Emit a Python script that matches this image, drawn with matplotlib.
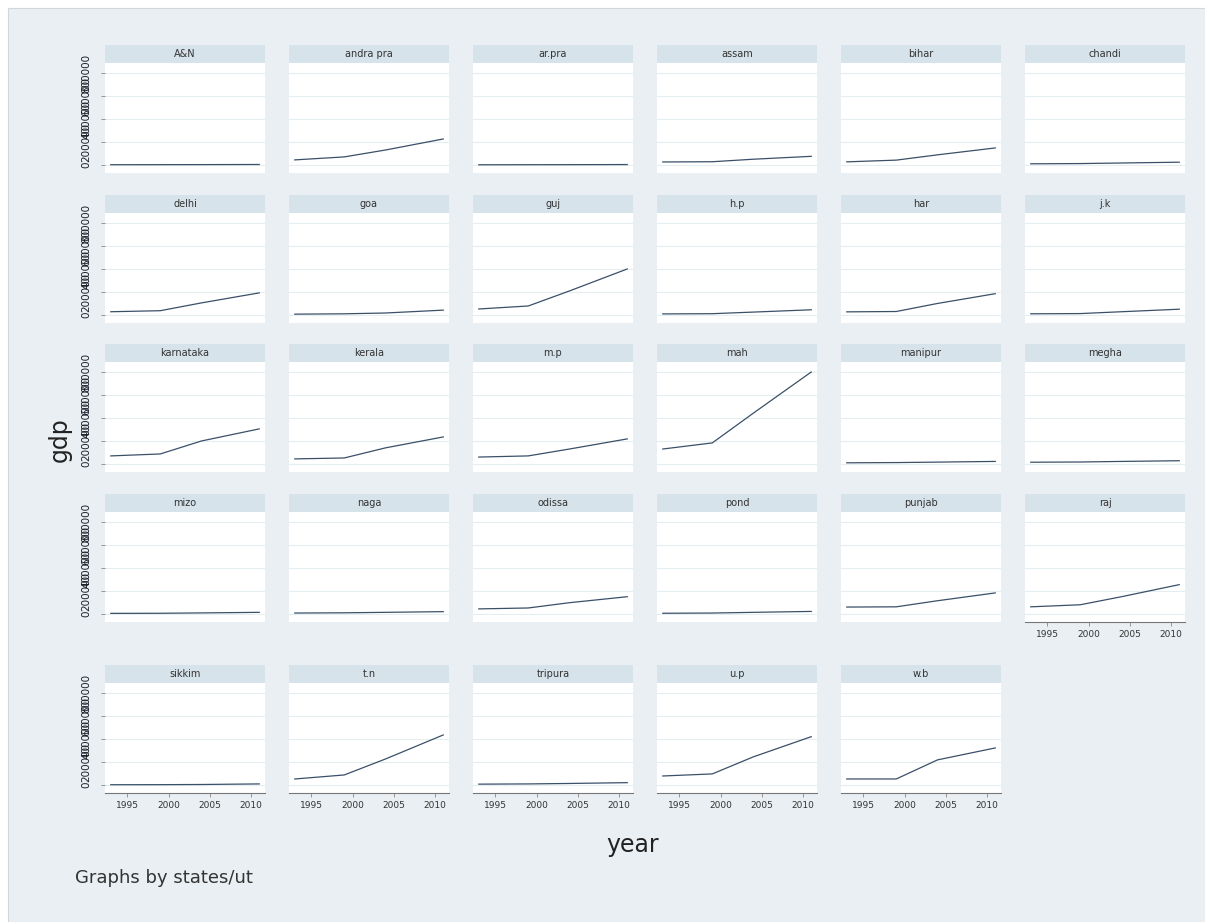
import numpy as np
import matplotlib.pyplot as plt
from matplotlib.patches import Rectangle

# Survey years and state GDP (one list per state)
years = [1993, 1999, 2004, 2011]
states = ['A&N', 'andra pra', 'ar.pra', 'assam', 'bihar', 'chandi',
          'delhi', 'goa', 'guj', 'h.p', 'har', 'j.k',
          'karnataka', 'kerala', 'm.p', 'mah', 'manipur', 'megha',
          'mizo', 'naga', 'odissa', 'pond', 'punjab', 'raj',
          'sikkim', 't.n', 'tripura', 'u.p', 'w.b']
gdp_an = [2000, 2500, 3000, 4000]
gdp_andra = [44000, 70000, 130000, 226000]
gdp_arpra = [1500, 2000, 2500, 3500]
gdp_assam = [26000, 28000, 50000, 75000]
gdp_bihar = [27000, 42000, 88000, 148000]
gdp_chandi = [10000, 12000, 17000, 24000]
gdp_delhi = [28000, 37000, 105000, 192000]
gdp_goa = [7000, 10000, 17000, 42000]
gdp_guj = [52000, 78000, 209000, 400000]
gdp_hp = [9000, 11000, 25000, 45000]
gdp_har = [27000, 30000, 100000, 185000]
gdp_jk = [10000, 12000, 28000, 50000]
gdp_karnataka = [70000, 87000, 200000, 305000]
gdp_kerala = [44000, 52000, 140000, 235000]
gdp_mp = [60000, 70000, 130000, 218000]
gdp_mah = [130000, 183000, 443000, 800000]
gdp_manipur = [10000, 12000, 16000, 22000]
gdp_megha = [15000, 17000, 22000, 28000]
gdp_mizo = [5000, 6000, 9000, 14000]
gdp_naga = [8000, 10000, 14000, 20000]
gdp_odissa = [44000, 52000, 98000, 150000]
gdp_pond = [6000, 8000, 14000, 22000]
gdp_punjab = [60000, 62000, 115000, 183000]
gdp_raj = [62000, 80000, 150000, 255000]
gdp_sikkim = [2000, 2500, 4000, 9000]
gdp_tn = [52000, 87000, 226000, 435000]
gdp_tripura = [7000, 9000, 13000, 20000]
gdp_up = [78000, 96000, 245000, 420000]
gdp_wb = [52000, 52000, 218000, 322000]

series = [gdp_an, gdp_andra, gdp_arpra, gdp_assam, gdp_bihar, gdp_chandi,
          gdp_delhi, gdp_goa, gdp_guj, gdp_hp, gdp_har, gdp_jk,
          gdp_karnataka, gdp_kerala, gdp_mp, gdp_mah, gdp_manipur, gdp_megha,
          gdp_mizo, gdp_naga, gdp_odissa, gdp_pond, gdp_punjab, gdp_raj,
          gdp_sikkim, gdp_tn, gdp_tripura, gdp_up, gdp_wb]

yticks = [0, 200000, 400000, 600000, 800000]
xticks = [1995, 2000, 2005, 2010]

W, H = 1205, 922
bg = '#e9eff2'
strip_col = '#d6e3ea'
grid_col = '#e6edf0'
line_col = '#3a5068'

fig = plt.figure(figsize=(W / 100, H / 100), dpi=100)
fig.patch.set_facecolor('white')
# graph region
fig.add_artist(Rectangle((8 / W, 0), 1, 1 - 8 / H, transform=fig.transFigure,
                         facecolor=bg, edgecolor='#d0d8dc', lw=0.8, zorder=0))

col_left = [105, 289, 473, 657, 841, 1025]
strip_top = [45, 195, 344, 494, 665]
pw, ph, sh = 160, 110, 18


def box(x, y, w, h):
    # pixel box (top-left origin) -> figure fraction
    return [x / W, 1 - (y + h) / H, w / W, h / H]


for i, (name, vals) in enumerate(zip(states, series)):
    r, c = divmod(i, 6)
    x0, y0 = col_left[c], strip_top[r]

    st = fig.add_axes(box(x0, y0, pw, sh))
    st.set_facecolor(strip_col)
    st.set_xticks([])
    st.set_yticks([])
    for s in st.spines.values():
        s.set_visible(False)
    st.text(0.5, 0.5, name, ha='center', va='center', fontsize=7, color='#333333')

    ax = fig.add_axes(box(x0, y0 + sh, pw, ph))
    ax.set_facecolor('white')
    ax.plot(years, vals, color=line_col, lw=0.9)
    ax.set_xlim(1992.3, 2011.7)
    ax.set_ylim(-70000, 887000)
    ax.set_yticks(yticks)
    ax.set_xticks(xticks)
    ax.grid(axis='y', color=grid_col, lw=0.8)
    ax.set_axisbelow(True)
    for s in ax.spines.values():
        s.set_visible(False)

    if c == 0:
        # Stata-style vertical labels, long enough to run into each other
        ax.set_yticklabels([str(v) for v in yticks], rotation=90, va='center',
                           fontsize=7.5, color='#1e1e2a')
        ax.tick_params(axis='y', length=3, width=0.6, color='#888888', pad=7)
    else:
        ax.tick_params(axis='y', length=0, labelleft=False)

    bottom_row = (r == 4) or (name == 'raj')
    if bottom_row:
        ax.spines['bottom'].set_visible(True)
        ax.spines['bottom'].set_color('#777777')
        ax.spines['bottom'].set_linewidth(0.8)
        ax.set_xticklabels([str(v) for v in xticks], fontsize=6.5, color='#333333')
        ax.tick_params(axis='x', length=3, width=0.6, color='#888888', pad=3)
    else:
        ax.tick_params(axis='x', length=0, labelbottom=False)

fig.text(60 / W, 1 - 440 / H, 'gdp', rotation=90, ha='center', va='center',
         fontsize=17, color='#222222')
fig.text(633 / W, 1 - 845 / H, 'year', ha='center', va='center',
         fontsize=17, color='#222222')
fig.text(75 / W, 1 - 878 / H, 'Graphs by states/ut', ha='left', va='center',
         fontsize=13, color='#333333')

plt.savefig('out.png', dpi=100, facecolor=fig.get_facecolor())
